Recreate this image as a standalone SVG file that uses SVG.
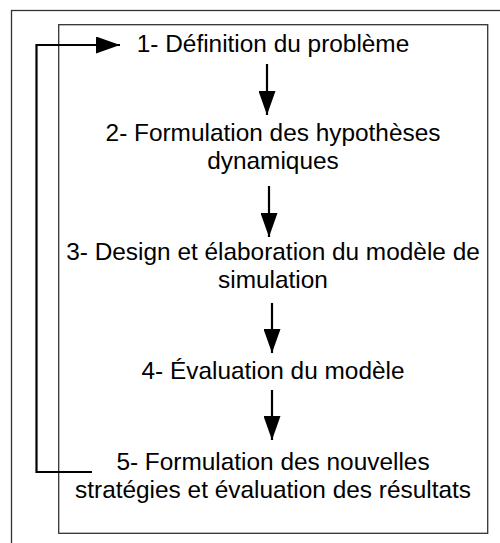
<svg xmlns="http://www.w3.org/2000/svg" width="500" height="543" viewBox="0 0 500 543">
<defs>
<marker id="ah" markerUnits="userSpaceOnUse" markerWidth="24" markerHeight="17" refX="24" refY="8.5" orient="auto">
<path d="M0,0 L24,8.5 L0,17 z" fill="#000"/>
</marker>
<style>
.lbl{font-family:"Liberation Sans",Arial,sans-serif;font-size:24.4px;fill:#000;text-anchor:middle}
.frame{fill:none;stroke:#333;stroke-width:1.3}
.con{fill:none;stroke:#000;stroke-width:2.2}
</style>
</defs>
<rect width="500" height="543" fill="#fff"/>
<rect class="frame" x="11.5" y="10.5" width="500" height="550"/>
<rect class="frame" x="58.7" y="24.7" width="429" height="508.6"/>
<g id="n1"><text class="lbl" x="273" y="52">1- Définition du problème</text></g>
<g id="n2"><text class="lbl" x="273" y="140.5">2- Formulation des hypothèses</text><text class="lbl" x="273" y="168.5">dynamiques</text></g>
<g id="n3"><text class="lbl" x="273" y="260">3- Design et élaboration du modèle de</text><text class="lbl" x="273" y="288">simulation</text></g>
<g id="n4"><text class="lbl" x="273" y="379">4- Évaluation du modèle</text></g>
<g id="n5"><text class="lbl" x="273" y="470">5- Formulation des nouvelles</text><text class="lbl" x="273" y="498">stratégies et évaluation des résultats</text></g>
<g id="connectors">
<line class="con" x1="267" y1="64" x2="267" y2="115" marker-end="url(#ah)"/>
<line class="con" x1="269" y1="186" x2="269" y2="237" marker-end="url(#ah)"/>
<line class="con" x1="272" y1="303" x2="272" y2="353" marker-end="url(#ah)"/>
<line class="con" x1="272" y1="390" x2="272" y2="440" marker-end="url(#ah)"/>
<polyline class="con" points="92,472 36.5,472 36.5,45 120,45" marker-end="url(#ah)"/>
</g>
</svg>
